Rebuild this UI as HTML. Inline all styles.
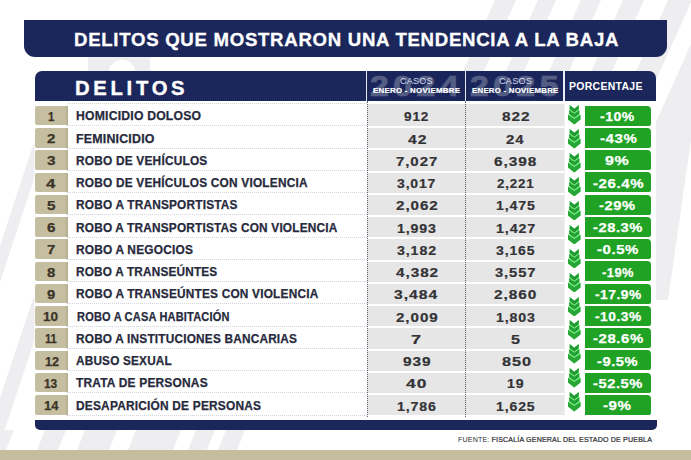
<!DOCTYPE html>
<html><head><meta charset="utf-8">
<style>
*{margin:0;padding:0;box-sizing:border-box}
html,body{width:691px;height:460px;overflow:hidden;background:#fff}
body{position:relative;font-family:"Liberation Sans",sans-serif;}
.bg{position:absolute;left:0;top:0;width:691px;height:460px}
.t{position:absolute;display:inline-block;white-space:nowrap;transform-origin:0 50%;font-weight:bold}
.title{position:absolute;left:24px;top:19.5px;width:643px;height:37.5px;background:#1b275b;border-radius:0 0 11px 11px}
#tt{top:9.6px;font-size:18.2px;line-height:22px;color:#fff;letter-spacing:0.7px;-webkit-text-stroke:0.3px #fff}
.thead{position:absolute;left:34.5px;top:71px;width:621.5px;height:29.7px;background:#1b275b;border-radius:7px 7px 0 0;overflow:hidden}
#td{top:6.3px;font-size:19.6px;line-height:22px;color:#fff;letter-spacing:3.6px;-webkit-text-stroke:0.35px #fff}
.sep{position:absolute;top:0;width:1.5px;height:30px;background:#e9ebf2}
.big{top:0.4px;height:30px;font-size:29px;line-height:30px;color:#fff;opacity:0.25;letter-spacing:4px;-webkit-text-stroke:0.7px #fff}
.casos{top:4.9px;font-size:8.5px;line-height:10px;color:#d7dcea;font-weight:normal;letter-spacing:0.2px}
.en{top:14.7px;font-size:7.5px;line-height:9px;color:#fff;letter-spacing:0.25px;-webkit-text-stroke:0.2px #fff}
#tp{top:9px;font-size:11px;line-height:12px;color:#fff;letter-spacing:0.3px}
.white{position:absolute;left:34.5px;top:100px;width:621.5px;height:320px;background:#fff}
.row{position:absolute;left:0;width:691px;height:22.25px}
.num{position:absolute;left:34.8px;top:0.2px;width:33px;height:19.4px;background:linear-gradient(to right,#c6bea0 0,#c6bea0 90%,#b4ac90 100%);border-radius:2px 0 0 2px}
.nt{top:2.2px;font-size:12.3px;line-height:19px;color:#3b3428;-webkit-text-stroke:0.25px #3b3428}
.lbl{top:1.6px;font-size:12px;line-height:19px;color:#272a3c;letter-spacing:0.2px;-webkit-text-stroke:0.25px #272a3c}
.row::before{content:"";position:absolute;left:67px;width:300px;top:19.6px;border-top:1px dotted #d2d4db}
.c{position:absolute;top:0px;height:20.3px;background:#e6e6e6}
.c1{left:367.2px;width:99px}
.c2{left:466px;width:97.6px}
.ct{top:0.7px;font-size:12.8px;line-height:21.5px;color:#333336;letter-spacing:0.8px;-webkit-text-stroke:0.2px #333336}
.arr{position:absolute;left:568.2px;width:12.6px;height:19.5px}
.pct{position:absolute;left:585.1px;top:-0.3px;width:65.9px;height:20.2px;background:#20a324;border-radius:0.5px 4px 2px 0.5px}
.pt{top:0.2px;color:#fff;font-size:13px;line-height:21.5px;letter-spacing:0.5px;-webkit-text-stroke:0.25px #fff}
.vdot{position:absolute;top:101px;height:316px;border-left:1px dotted #9aa0b4}
.bbar{position:absolute;left:34.5px;top:419.6px;width:622px;height:10px;background:#1b275b;border-radius:0 0 5px 5px}
#ft{top:434.6px;font-size:7.4px;line-height:9px;color:#2e2e34;letter-spacing:0.15px;font-weight:normal}
.tan{position:absolute;left:0;top:449.7px;width:691px;height:11px;background:#c5be9e}
</style></head><body>
<svg class="bg" viewBox="0 0 691 460">

<g fill="#eeeef1">
<polygon points="495,0 516,0 468.8,105 447.8,105"/>
<polygon points="538,0 556,0 508.8,105 490.8,105"/>
<polygon points="581,0 601,0 553.8,105 533.8,105"/>
<polygon points="623,0 644,0 596.8,105 575.8,105"/>
<polygon points="668,0 692,0 644.8,105 620.8,105"/>
<polygon points="691,44 691,140 668,300 656,300 656,122"/>
<polygon points="34.5,141 34.5,177.6 0,282 0,245.8"/>
<polygon points="34.5,294 34.5,340 0,444 0,398"/><polygon points="14,430 6,450 0,450 0,430"/>
<polygon points="45,430 66,430 58,450 37,450"/>
<polygon points="85,430 117,430 109,450 77,450"/>
<polygon points="136,430 181,430 173,450 128,450"/>
<polygon points="196,430 215,430 207,450 188,450"/>
<polygon points="226,430 245,430 237,450 218,450"/>
<path d="M88,57 H150 V71 H135 A13,11 0 0 0 109,71 H88 Z"/>
</g>
</svg>
<div class="title"><span id="tt" class="t" style="left:49.60px;transform:scaleX(1.0227)">DELITOS QUE MOSTRARON UNA TENDENCIA A LA BAJA</span></div>
<div class="white"></div>
<div class="thead">
<span id="y1" class="t big" style="left:335.85px;transform:scaleX(1.1581)">2024</span>
<span id="y2" class="t big" style="left:435.45px;transform:scaleX(1.1571)">2025</span>
<div class="sep" style="left:331.3px"></div>
<div class="sep" style="left:430.2px"></div>
<div class="sep" style="left:528.8px"></div>
<span id="td" class="t" style="left:40.95px;transform:scaleX(1.0324)">DELITOS</span>
<span id="c1" class="t casos" style="left:365.69px;transform:scaleX(1.0619)">CASOS</span>
<span id="e1" class="t en" style="left:338.83px;transform:scaleX(1.0499)">ENERO - NOVIEMBRE</span>
<span id="c2" class="t casos" style="left:464.71px;transform:scaleX(1.0793)">CASOS</span>
<span id="e2" class="t en" style="left:437.76px;transform:scaleX(1.0425)">ENERO - NOVIEMBRE</span>
<span id="tp" class="t" style="left:534.86px;transform:scaleX(0.9535)">PORCENTAJE</span>
</div>
<div class="row" style="top:105.80px"><div class="num"></div><span id="n0" class="t nt" style="left:47.95px;transform:scaleX(0.9259)">1</span><span id="l0" class="t lbl" style="left:76.27px;transform:scaleX(1.0166)">HOMICIDIO DOLOSO</span><div class="c c1"></div><div class="c c2"></div><span id="a0" class="t ct" style="left:404.41px;transform:scaleX(1.0609)">912</span><span id="b0" class="t ct" style="left:502.34px;transform:scaleX(1.2024)">822</span><div class="pct"></div><span id="p0" class="t pt" style="left:599.98px;transform:scaleX(1.0759)">-10%</span></div>
<div class="row" style="top:128.05px"><div class="num"></div><span id="n1" class="t nt" style="left:46.66px;transform:scaleX(1.2214)">2</span><span id="l1" class="t lbl" style="left:76.11px;transform:scaleX(1.0320)">FEMINICIDIO</span><div class="c c1"></div><div class="c c2"></div><span id="a1" class="t ct" style="left:408.13px;transform:scaleX(1.2284)">42</span><span id="b1" class="t ct" style="left:506.28px;transform:scaleX(1.1649)">24</span><div class="pct"></div><span id="p1" class="t pt" style="left:599.63px;transform:scaleX(1.1543)">-43%</span></div>
<div class="row" style="top:150.30px"><div class="num"></div><span id="n2" class="t nt" style="left:46.92px;transform:scaleX(1.2484)">3</span><span id="l2" class="t lbl" style="left:76.27px;transform:scaleX(0.9906)">ROBO DE VEHÍCULOS</span><div class="c c1"></div><div class="c c2"></div><span id="a2" class="t ct" style="left:395.94px;transform:scaleX(1.1706)">7,027</span><span id="b2" class="t ct" style="left:493.81px;transform:scaleX(1.2031)">6,398</span><div class="pct"></div><span id="p2" class="t pt" style="left:605.38px;transform:scaleX(1.2282)">9%</span></div>
<div class="row" style="top:172.55px"><div class="num"></div><span id="n3" class="t nt" style="left:46.29px;transform:scaleX(1.3609)">4</span><span id="l3" class="t lbl" style="left:76.27px;transform:scaleX(0.9892)">ROBO DE VEHÍCULOS CON VIOLENCIA</span><div class="c c1"></div><div class="c c2"></div><span id="a3" class="t ct" style="left:396.96px;transform:scaleX(1.0896)">3,017</span><span id="b3" class="t ct" style="left:497.13px;transform:scaleX(1.0426)">2,221</span><div class="pct"></div><span id="p3" class="t pt" style="left:592.53px;transform:scaleX(1.1562)">-26.4%</span></div>
<div class="row" style="top:194.80px"><div class="num"></div><span id="n4" class="t nt" style="left:46.52px;transform:scaleX(1.2429)">5</span><span id="l4" class="t lbl" style="left:76.27px;transform:scaleX(0.9876)">ROBO A TRANSPORTISTAS</span><div class="c c1"></div><div class="c c2"></div><span id="a4" class="t ct" style="left:395.98px;transform:scaleX(1.1872)">2,062</span><span id="b4" class="t ct" style="left:495.99px;transform:scaleX(1.1071)">1,475</span><div class="pct"></div><span id="p4" class="t pt" style="left:599.29px;transform:scaleX(1.1296)">-29%</span></div>
<div class="row" style="top:217.05px"><div class="num"></div><span id="n5" class="t nt" style="left:47.10px;transform:scaleX(1.2388)">6</span><span id="l5" class="t lbl" style="left:76.27px;transform:scaleX(0.9859)">ROBO A TRANSPORTISTAS CON VIOLENCIA</span><div class="c c1"></div><div class="c c2"></div><span id="a5" class="t ct" style="left:396.89px;transform:scaleX(1.1068)">1,993</span><span id="b5" class="t ct" style="left:495.97px;transform:scaleX(1.1158)">1,427</span><div class="pct"></div><span id="p5" class="t pt" style="left:592.99px;transform:scaleX(1.1302)">-28.3%</span></div>
<div class="row" style="top:239.30px"><div class="num"></div><span id="n6" class="t nt" style="left:46.55px;transform:scaleX(1.2040)">7</span><span id="l6" class="t lbl" style="left:76.27px;transform:scaleX(0.9908)">ROBO A NEGOCIOS</span><div class="c c1"></div><div class="c c2"></div><span id="a6" class="t ct" style="left:397.08px;transform:scaleX(1.1093)">3,182</span><span id="b6" class="t ct" style="left:495.75px;transform:scaleX(1.0919)">3,165</span><div class="pct"></div><span id="p6" class="t pt" style="left:596.85px;transform:scaleX(1.1486)">-0.5%</span></div>
<div class="row" style="top:261.55px"><div class="num"></div><span id="n7" class="t nt" style="left:46.64px;transform:scaleX(1.2159)">8</span><span id="l7" class="t lbl" style="left:76.35px;transform:scaleX(0.9817)">ROBO A TRANSEÚNTES</span><div class="c c1"></div><div class="c c2"></div><span id="a7" class="t ct" style="left:395.63px;transform:scaleX(1.1961)">4,382</span><span id="b7" class="t ct" style="left:495.36px;transform:scaleX(1.1509)">3,557</span><div class="pct"></div><span id="p7" class="t pt" style="left:602.21px;transform:scaleX(0.9895)">-19%</span></div>
<div class="row" style="top:283.80px"><div class="num"></div><span id="n8" class="t nt" style="left:47.15px;transform:scaleX(1.1975)">9</span><span id="l8" class="t lbl" style="left:76.27px;transform:scaleX(0.9872)">ROBO A TRANSEÚNTES CON VIOLENCIA</span><div class="c c1"></div><div class="c c2"></div><span id="a8" class="t ct" style="left:394.16px;transform:scaleX(1.2267)">3,484</span><span id="b8" class="t ct" style="left:494.17px;transform:scaleX(1.2045)">2,860</span><div class="pct"></div><span id="p8" class="t pt" style="left:594.72px;transform:scaleX(1.0590)">-17.9%</span></div>
<div class="row" style="top:306.05px"><div class="num"></div><span id="n9" class="t nt" style="left:43.46px;transform:scaleX(1.0993)">10</span><span id="l9" class="t lbl" style="left:76.59px;transform:scaleX(0.9183)">ROBO A CASA HABITACIÓN</span><div class="c c1"></div><div class="c c2"></div><span id="a9" class="t ct" style="left:395.98px;transform:scaleX(1.1838)">2,009</span><span id="b9" class="t ct" style="left:495.99px;transform:scaleX(1.1072)">1,803</span><div class="pct"></div><span id="p9" class="t pt" style="left:594.72px;transform:scaleX(1.0590)">-10.3%</span></div>
<div class="row" style="top:328.30px"><div class="num"></div><span id="n10" class="t nt" style="left:44.73px;transform:scaleX(0.9062)">11</span><span id="l10" class="t lbl" style="left:76.27px;transform:scaleX(0.9854)">ROBO A INSTITUCIONES BANCARIAS</span><div class="c c1"></div><div class="c c2"></div><span id="a10" class="t ct" style="left:410.54px;transform:scaleX(1.4159)">7</span><span id="b10" class="t ct" style="left:511.22px;transform:scaleX(1.2638)">5</span><div class="pct"></div><span id="p10" class="t pt" style="left:592.55px;transform:scaleX(1.1489)">-28.6%</span></div>
<div class="row" style="top:350.55px"><div class="num"></div><span id="n11" class="t nt" style="left:44.88px;transform:scaleX(1.0222)">12</span><span id="l11" class="t lbl" style="left:75.88px;transform:scaleX(0.9815)">ABUSO SEXUAL</span><div class="c c1"></div><div class="c c2"></div><span id="a11" class="t ct" style="left:402.61px;transform:scaleX(1.2024)">939</span><span id="b11" class="t ct" style="left:501.70px;transform:scaleX(1.2696)">850</span><div class="pct"></div><span id="p11" class="t pt" style="left:596.89px;transform:scaleX(1.1313)">-9.5%</span></div>
<div class="row" style="top:372.80px"><div class="num"></div><span id="n12" class="t nt" style="left:44.00px;transform:scaleX(0.9663)">13</span><span id="l12" class="t lbl" style="left:76.28px;transform:scaleX(0.9945)">TRATA DE PERSONAS</span><div class="c c1"></div><div class="c c2"></div><span id="a12" class="t ct" style="left:406.20px;transform:scaleX(1.3568)">40</span><span id="b12" class="t ct" style="left:506.79px;transform:scaleX(1.1045)">19</span><div class="pct"></div><span id="p12" class="t pt" style="left:592.99px;transform:scaleX(1.1302)">-52.5%</span></div>
<div class="row" style="top:395.05px"><div class="num"></div><span id="n13" class="t nt" style="left:43.62px;transform:scaleX(1.0587)">14</span><span id="l13" class="t lbl" style="left:76.27px;transform:scaleX(0.9923)">DESAPARICIÓN DE PERSONAS</span><div class="c c1"></div><div class="c c2"></div><span id="a13" class="t ct" style="left:396.89px;transform:scaleX(1.1044)">1,786</span><span id="b13" class="t ct" style="left:495.99px;transform:scaleX(1.0981)">1,625</span><div class="pct"></div><span id="p13" class="t pt" style="left:603.47px;transform:scaleX(1.1582)">-9%</span></div><div class="c" style="left:367.2px;width:196.4px;top:103.8px;height:3px"></div><div style="position:absolute;left:67.8px;width:299px;top:102.8px;border-top:1px dotted #d2d4db"></div><svg class="arr" style="top:105.20px" viewBox="0 0 13 20"><path d="M1.7 0 L6.45 3.9 L11.2 0 L11.2 4.6 L11.7 5 L11.7 9.6 L12.9 9.9 L12.9 15 L6.45 20 L0 15 L0 9.9 L1.2 9.6 L1.2 5 L1.7 4.6 Z" fill="#84f491"/><path d="M1.7 0 L6.45 3.9 L11.2 0 L11.2 4.1 L6.45 8 L1.7 4.1 Z" fill="#1f9830"/><path d="M1.2 5 L6.45 9 L11.7 5 L11.7 9.2 L6.45 13.2 L1.2 9.2 Z" fill="#22a034"/><path d="M0 9.9 L6.45 14.3 L12.9 9.9 L12.9 15 L6.45 20 L0 15 Z" fill="#27a636"/></svg><svg class="arr" style="top:129.12px" viewBox="0 0 13 20"><path d="M1.7 0 L6.45 3.9 L11.2 0 L11.2 4.6 L11.7 5 L11.7 9.6 L12.9 9.9 L12.9 15 L6.45 20 L0 15 L0 9.9 L1.2 9.6 L1.2 5 L1.7 4.6 Z" fill="#84f491"/><path d="M1.7 0 L6.45 3.9 L11.2 0 L11.2 4.1 L6.45 8 L1.7 4.1 Z" fill="#1f9830"/><path d="M1.2 5 L6.45 9 L11.7 5 L11.7 9.2 L6.45 13.2 L1.2 9.2 Z" fill="#22a034"/><path d="M0 9.9 L6.45 14.3 L12.9 9.9 L12.9 15 L6.45 20 L0 15 Z" fill="#27a636"/></svg><svg class="arr" style="top:153.04px" viewBox="0 0 13 20"><path d="M1.7 0 L6.45 3.9 L11.2 0 L11.2 4.6 L11.7 5 L11.7 9.6 L12.9 9.9 L12.9 15 L6.45 20 L0 15 L0 9.9 L1.2 9.6 L1.2 5 L1.7 4.6 Z" fill="#84f491"/><path d="M1.7 0 L6.45 3.9 L11.2 0 L11.2 4.1 L6.45 8 L1.7 4.1 Z" fill="#1f9830"/><path d="M1.2 5 L6.45 9 L11.7 5 L11.7 9.2 L6.45 13.2 L1.2 9.2 Z" fill="#22a034"/><path d="M0 9.9 L6.45 14.3 L12.9 9.9 L12.9 15 L6.45 20 L0 15 Z" fill="#27a636"/></svg><svg class="arr" style="top:176.96px" viewBox="0 0 13 20"><path d="M1.7 0 L6.45 3.9 L11.2 0 L11.2 4.6 L11.7 5 L11.7 9.6 L12.9 9.9 L12.9 15 L6.45 20 L0 15 L0 9.9 L1.2 9.6 L1.2 5 L1.7 4.6 Z" fill="#84f491"/><path d="M1.7 0 L6.45 3.9 L11.2 0 L11.2 4.1 L6.45 8 L1.7 4.1 Z" fill="#1f9830"/><path d="M1.2 5 L6.45 9 L11.7 5 L11.7 9.2 L6.45 13.2 L1.2 9.2 Z" fill="#22a034"/><path d="M0 9.9 L6.45 14.3 L12.9 9.9 L12.9 15 L6.45 20 L0 15 Z" fill="#27a636"/></svg><svg class="arr" style="top:200.88px" viewBox="0 0 13 20"><path d="M1.7 0 L6.45 3.9 L11.2 0 L11.2 4.6 L11.7 5 L11.7 9.6 L12.9 9.9 L12.9 15 L6.45 20 L0 15 L0 9.9 L1.2 9.6 L1.2 5 L1.7 4.6 Z" fill="#84f491"/><path d="M1.7 0 L6.45 3.9 L11.2 0 L11.2 4.1 L6.45 8 L1.7 4.1 Z" fill="#1f9830"/><path d="M1.2 5 L6.45 9 L11.7 5 L11.7 9.2 L6.45 13.2 L1.2 9.2 Z" fill="#22a034"/><path d="M0 9.9 L6.45 14.3 L12.9 9.9 L12.9 15 L6.45 20 L0 15 Z" fill="#27a636"/></svg><svg class="arr" style="top:224.80px" viewBox="0 0 13 20"><path d="M1.7 0 L6.45 3.9 L11.2 0 L11.2 4.6 L11.7 5 L11.7 9.6 L12.9 9.9 L12.9 15 L6.45 20 L0 15 L0 9.9 L1.2 9.6 L1.2 5 L1.7 4.6 Z" fill="#84f491"/><path d="M1.7 0 L6.45 3.9 L11.2 0 L11.2 4.1 L6.45 8 L1.7 4.1 Z" fill="#1f9830"/><path d="M1.2 5 L6.45 9 L11.7 5 L11.7 9.2 L6.45 13.2 L1.2 9.2 Z" fill="#22a034"/><path d="M0 9.9 L6.45 14.3 L12.9 9.9 L12.9 15 L6.45 20 L0 15 Z" fill="#27a636"/></svg><svg class="arr" style="top:248.72px" viewBox="0 0 13 20"><path d="M1.7 0 L6.45 3.9 L11.2 0 L11.2 4.6 L11.7 5 L11.7 9.6 L12.9 9.9 L12.9 15 L6.45 20 L0 15 L0 9.9 L1.2 9.6 L1.2 5 L1.7 4.6 Z" fill="#84f491"/><path d="M1.7 0 L6.45 3.9 L11.2 0 L11.2 4.1 L6.45 8 L1.7 4.1 Z" fill="#1f9830"/><path d="M1.2 5 L6.45 9 L11.7 5 L11.7 9.2 L6.45 13.2 L1.2 9.2 Z" fill="#22a034"/><path d="M0 9.9 L6.45 14.3 L12.9 9.9 L12.9 15 L6.45 20 L0 15 Z" fill="#27a636"/></svg><svg class="arr" style="top:272.64px" viewBox="0 0 13 20"><path d="M1.7 0 L6.45 3.9 L11.2 0 L11.2 4.6 L11.7 5 L11.7 9.6 L12.9 9.9 L12.9 15 L6.45 20 L0 15 L0 9.9 L1.2 9.6 L1.2 5 L1.7 4.6 Z" fill="#84f491"/><path d="M1.7 0 L6.45 3.9 L11.2 0 L11.2 4.1 L6.45 8 L1.7 4.1 Z" fill="#1f9830"/><path d="M1.2 5 L6.45 9 L11.7 5 L11.7 9.2 L6.45 13.2 L1.2 9.2 Z" fill="#22a034"/><path d="M0 9.9 L6.45 14.3 L12.9 9.9 L12.9 15 L6.45 20 L0 15 Z" fill="#27a636"/></svg><svg class="arr" style="top:296.56px" viewBox="0 0 13 20"><path d="M1.7 0 L6.45 3.9 L11.2 0 L11.2 4.6 L11.7 5 L11.7 9.6 L12.9 9.9 L12.9 15 L6.45 20 L0 15 L0 9.9 L1.2 9.6 L1.2 5 L1.7 4.6 Z" fill="#84f491"/><path d="M1.7 0 L6.45 3.9 L11.2 0 L11.2 4.1 L6.45 8 L1.7 4.1 Z" fill="#1f9830"/><path d="M1.2 5 L6.45 9 L11.7 5 L11.7 9.2 L6.45 13.2 L1.2 9.2 Z" fill="#22a034"/><path d="M0 9.9 L6.45 14.3 L12.9 9.9 L12.9 15 L6.45 20 L0 15 Z" fill="#27a636"/></svg><svg class="arr" style="top:320.48px" viewBox="0 0 13 20"><path d="M1.7 0 L6.45 3.9 L11.2 0 L11.2 4.6 L11.7 5 L11.7 9.6 L12.9 9.9 L12.9 15 L6.45 20 L0 15 L0 9.9 L1.2 9.6 L1.2 5 L1.7 4.6 Z" fill="#84f491"/><path d="M1.7 0 L6.45 3.9 L11.2 0 L11.2 4.1 L6.45 8 L1.7 4.1 Z" fill="#1f9830"/><path d="M1.2 5 L6.45 9 L11.7 5 L11.7 9.2 L6.45 13.2 L1.2 9.2 Z" fill="#22a034"/><path d="M0 9.9 L6.45 14.3 L12.9 9.9 L12.9 15 L6.45 20 L0 15 Z" fill="#27a636"/></svg><svg class="arr" style="top:344.40px" viewBox="0 0 13 20"><path d="M1.7 0 L6.45 3.9 L11.2 0 L11.2 4.6 L11.7 5 L11.7 9.6 L12.9 9.9 L12.9 15 L6.45 20 L0 15 L0 9.9 L1.2 9.6 L1.2 5 L1.7 4.6 Z" fill="#84f491"/><path d="M1.7 0 L6.45 3.9 L11.2 0 L11.2 4.1 L6.45 8 L1.7 4.1 Z" fill="#1f9830"/><path d="M1.2 5 L6.45 9 L11.7 5 L11.7 9.2 L6.45 13.2 L1.2 9.2 Z" fill="#22a034"/><path d="M0 9.9 L6.45 14.3 L12.9 9.9 L12.9 15 L6.45 20 L0 15 Z" fill="#27a636"/></svg><svg class="arr" style="top:368.32px" viewBox="0 0 13 20"><path d="M1.7 0 L6.45 3.9 L11.2 0 L11.2 4.6 L11.7 5 L11.7 9.6 L12.9 9.9 L12.9 15 L6.45 20 L0 15 L0 9.9 L1.2 9.6 L1.2 5 L1.7 4.6 Z" fill="#84f491"/><path d="M1.7 0 L6.45 3.9 L11.2 0 L11.2 4.1 L6.45 8 L1.7 4.1 Z" fill="#1f9830"/><path d="M1.2 5 L6.45 9 L11.7 5 L11.7 9.2 L6.45 13.2 L1.2 9.2 Z" fill="#22a034"/><path d="M0 9.9 L6.45 14.3 L12.9 9.9 L12.9 15 L6.45 20 L0 15 Z" fill="#27a636"/></svg><svg class="arr" style="top:392.24px" viewBox="0 0 13 20"><path d="M1.7 0 L6.45 3.9 L11.2 0 L11.2 4.6 L11.7 5 L11.7 9.6 L12.9 9.9 L12.9 15 L6.45 20 L0 15 L0 9.9 L1.2 9.6 L1.2 5 L1.7 4.6 Z" fill="#84f491"/><path d="M1.7 0 L6.45 3.9 L11.2 0 L11.2 4.1 L6.45 8 L1.7 4.1 Z" fill="#1f9830"/><path d="M1.2 5 L6.45 9 L11.7 5 L11.7 9.2 L6.45 13.2 L1.2 9.2 Z" fill="#22a034"/><path d="M0 9.9 L6.45 14.3 L12.9 9.9 L12.9 15 L6.45 20 L0 15 Z" fill="#27a636"/></svg>
<div class="vdot" style="left:366.6px;border-left:1px dotted #5d6274"></div>
<div class="vdot" style="left:465.3px;border-left:1px dotted #5a5d68"></div>
<div class="vdot" style="left:563.6px;border-left:1px solid #eef0f4"></div>
<div class="bbar"></div>
<span id="ft" class="t" style="left:458.32px;transform:scaleX(0.9626)">FUENTE: <span style="-webkit-text-stroke:0.22px #2e2e34">FISCALÍA GENERAL DEL ESTADO DE PUEBLA</span></span>
<div class="tan"></div>
</body></html>
